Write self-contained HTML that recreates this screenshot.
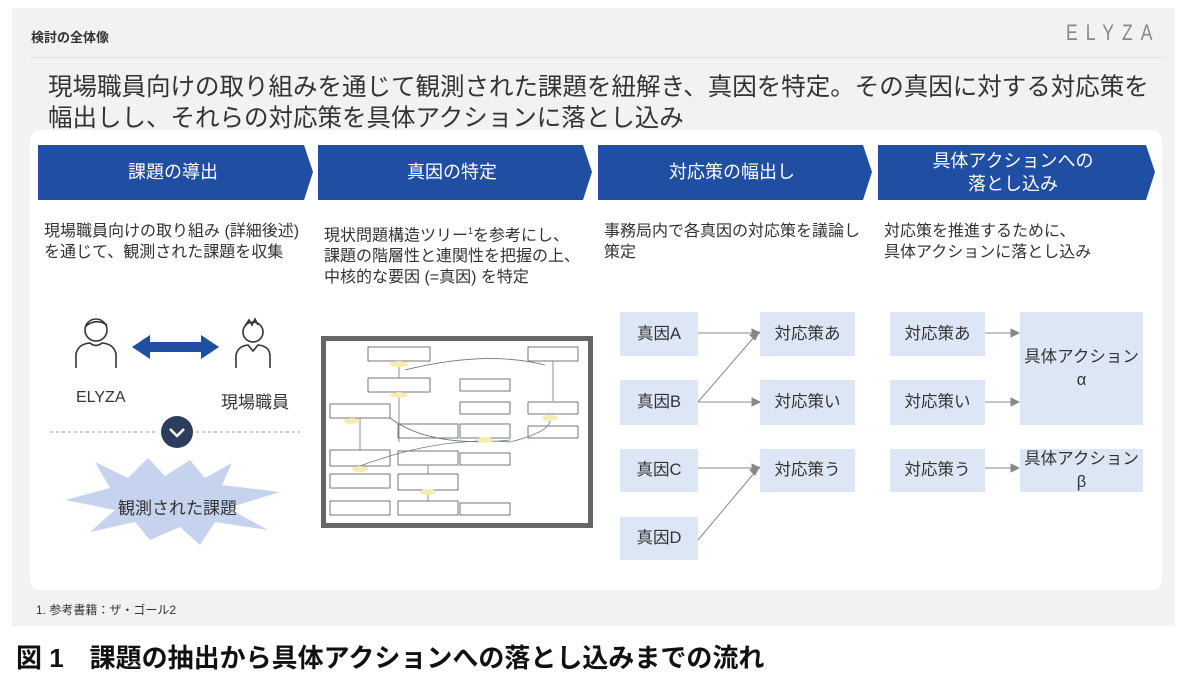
<!DOCTYPE html>
<html><head><meta charset="utf-8"><style>
body{margin:0;width:1200px;height:686px;background:#fff;position:relative;font-family:"Liberation Sans","Noto Sans CJK JP",sans-serif;overflow:hidden}
.a{position:absolute}
.slide{left:12px;top:8px;width:1163px;height:618px;background:#f2f2f2}
.panel{left:30px;top:130px;width:1132px;height:460px;background:#fff;border-radius:10px}
.t{color:#333}
.box{position:absolute;background:#dde6f5;color:#333;font-size:16.5px;display:flex;align-items:center;justify-content:center;text-align:center;line-height:1.35}
.desc{position:absolute;font-size:16px;color:#333;line-height:21px;top:221px;white-space:nowrap}
.hdr{position:absolute;top:145px;height:55px;color:#fff;font-size:18px;display:flex;align-items:center;justify-content:center;text-align:center;line-height:23px}
</style></head><body>
<div class="a slide"></div>
<div class="a t" style="left:31px;top:27px;font-size:13px;font-weight:bold">検討の全体像</div>
<div class="a" style="left:1066px;top:20px;font-size:22px;letter-spacing:10px;color:#888;transform:scaleX(0.8);transform-origin:left">ELYZA</div>
<div class="a" style="left:30px;top:57px;width:1135px;height:1px;background:#e4e4ea"></div>
<div class="a t" style="left:48px;top:72px;font-size:24.5px;line-height:31px;color:#333;white-space:nowrap">現場職員向けの取り組みを通じて観測された課題を紐解き、真因を特定。その真因に対する対応策を<br>幅出しし、それらの対応策を具体アクションに落とし込み</div>
<div class="a panel"></div>
<svg class="a" style="left:0;top:0" width="1200" height="686">
<polygon points="38,145 304,145 313,172 304,200 38,200" fill="#1f4ea3"/>
<polygon points="318,145 583,145 592,172 583,200 318,200" fill="#1f4ea3"/>
<polygon points="598,145 863,145 872,172 863,200 598,200" fill="#1f4ea3"/>
<polygon points="878,145 1146,145 1155,172 1146,200 878,200" fill="#1f4ea3"/>
<g fill="none" stroke="#333" stroke-width="1.6">
<circle cx="96" cy="330" r="11"/><path d="M86 326 q10 -8 21 -1"/>
<path d="M76 368 v-14 q2 -10 14 -11 q6 5 12 0 q12 1 14 11 v14"/>
<circle cx="253" cy="332" r="10"/><path d="M245 326 l4 -6 l3 5 l3 -6 l3 6"/>
<path d="M236 368 v-13 q2 -9 12 -10 l5 6 l5 -6 q11 1 12 10 v13"/>
</g>
<polygon points="132,347 150,335 150,342 201,342 201,335 219,347 201,359 201,352 150,352 150,359" fill="#1f4ea3"/>
<line x1="50" y1="432" x2="158" y2="432" stroke="#999" stroke-dasharray="3,3"/>
<line x1="196" y1="432" x2="300" y2="432" stroke="#999" stroke-dasharray="3,3"/>
<circle cx="177" cy="432" r="16" fill="#2c3e5c"/>
<path d="M170 429 l7 7 l7 -7" stroke="#fff" stroke-width="2.5" fill="none"/>
<polygon points="95,462 128,478 148,458 165,476 190,460 205,478 232,463 222,485 280,492 228,508 268,530 215,522 200,545 180,527 150,540 135,522 90,532 115,510 65,500 110,488" fill="#c5d3ee"/>
<rect x="321" y="336" width="272" height="192" fill="#666"/>
<rect x="326" y="341" width="262" height="182" fill="#fff"/>
<g fill="#fff" stroke="#555" stroke-width="0.8">
<rect x="368" y="347" width="62" height="14"/><rect x="528" y="347" width="50" height="14"/>
<rect x="368" y="378" width="62" height="14"/><rect x="460" y="379" width="50" height="12"/>
<rect x="330" y="404" width="60" height="14"/><rect x="460" y="402" width="50" height="12"/><rect x="528" y="402" width="50" height="12"/>
<rect x="398" y="424" width="60" height="14"/><rect x="460" y="424" width="50" height="14"/><rect x="528" y="426" width="50" height="12"/>
<rect x="330" y="450" width="60" height="16"/><rect x="398" y="451" width="60" height="14"/><rect x="460" y="453" width="50" height="12"/>
<rect x="330" y="474" width="60" height="14"/><rect x="398" y="474" width="60" height="16"/>
<rect x="330" y="501" width="60" height="14"/><rect x="398" y="501" width="60" height="14"/><rect x="460" y="503" width="50" height="12"/>
</g>
<g fill="none" stroke="#678" stroke-width="0.8">
<path d="M399 361 v17 M399 392 v50 M360 418 v32 M428 465 v9 M428 490 v11 M360 466 q80 -30 150 -24 q40 -10 40 -22 M553 361 v40 M405 370 q80 -20 140 -5 M390 418 q40 30 120 22"/>
</g>
<g fill="#f4ecb0"><ellipse cx="399" cy="364" rx="9" ry="3"/><ellipse cx="399" cy="395" rx="9" ry="3"/><ellipse cx="352" cy="421" rx="8" ry="3"/><ellipse cx="485" cy="440" rx="8" ry="3"/><ellipse cx="360" cy="469" rx="8" ry="3"/><ellipse cx="428" cy="492" rx="8" ry="3"/><ellipse cx="550" cy="418" rx="8" ry="3"/></g>
<g stroke="#888" stroke-width="1" fill="#888">
<line x1="698" y1="333" x2="755" y2="333"/><polygon points="760,333 752,329 752,337"/>
<line x1="698" y1="402" x2="755" y2="402"/><polygon points="760,402 752,398 752,406"/>
<line x1="698" y1="402" x2="755" y2="336"/><polygon points="759,332 750,335 755,340"/>
<line x1="698" y1="468" x2="755" y2="468"/><polygon points="760,468 752,464 752,472"/>
<line x1="698" y1="540" x2="755" y2="472"/><polygon points="759,467 750,470 755,475"/>
<line x1="985" y1="333" x2="1014" y2="333"/><polygon points="1019,333 1011,329 1011,337"/>
<line x1="985" y1="402" x2="1014" y2="402"/><polygon points="1019,402 1011,398 1011,406"/>
<line x1="985" y1="468" x2="1014" y2="468"/><polygon points="1019,468 1011,464 1011,472"/>
</g>
</svg>
<div class="hdr" style="left:38px;width:270px">課題の導出</div>
<div class="hdr" style="left:318px;width:268px">真因の特定</div>
<div class="hdr" style="left:598px;width:268px">対応策の幅出し</div>
<div class="hdr" style="left:878px;width:270px">具体アクションへの<br>落とし込み</div>
<div class="desc" style="left:44px">現場職員向けの取り組み (詳細後述)<br>を通じて、観測された課題を収集</div>
<div class="desc" style="left:324px">現状問題構造ツリー<sup style="font-size:9px">1</sup>を参考にし、<br>課題の階層性と連関性を把握の上、<br>中核的な要因 (=真因) を特定</div>
<div class="desc" style="left:604px">事務局内で各真因の対応策を議論し<br>策定</div>
<div class="desc" style="left:884px">対応策を推進するために、<br>具体アクションに落とし込み</div>
<div class="a t" style="left:76px;top:389px;font-size:16px">ELYZA</div>
<div class="a t" style="left:221px;top:388px;font-size:17px">現場職員</div>
<div class="a t" style="left:118px;top:494px;font-size:17px">観測された課題</div>
<div class="box" style="left:620px;top:312px;width:78px;height:44px">真因A</div>
<div class="box" style="left:620px;top:380px;width:78px;height:45px">真因B</div>
<div class="box" style="left:620px;top:449px;width:78px;height:43px">真因C</div>
<div class="box" style="left:620px;top:517px;width:78px;height:43px">真因D</div>
<div class="box" style="left:760px;top:312px;width:95px;height:44px">対応策あ</div>
<div class="box" style="left:760px;top:380px;width:95px;height:45px">対応策い</div>
<div class="box" style="left:760px;top:449px;width:95px;height:43px">対応策う</div>
<div class="box" style="left:890px;top:312px;width:95px;height:44px">対応策あ</div>
<div class="box" style="left:890px;top:380px;width:95px;height:45px">対応策い</div>
<div class="box" style="left:890px;top:449px;width:95px;height:43px">対応策う</div>
<div class="box" style="left:1020px;top:312px;width:123px;height:113px">具体アクション<br>α</div>
<div class="box" style="left:1020px;top:449px;width:123px;height:43px">具体アクション<br>β</div>
<div class="a t" style="left:36px;top:601px;font-size:12px">1. 参考書籍：ザ・ゴール2</div>
<div class="a" style="left:16px;top:638px;font-size:26px;font-weight:bold;color:#111;white-space:nowrap">図 1　課題の抽出から具体アクションへの落とし込みまでの流れ</div>
</body></html>
